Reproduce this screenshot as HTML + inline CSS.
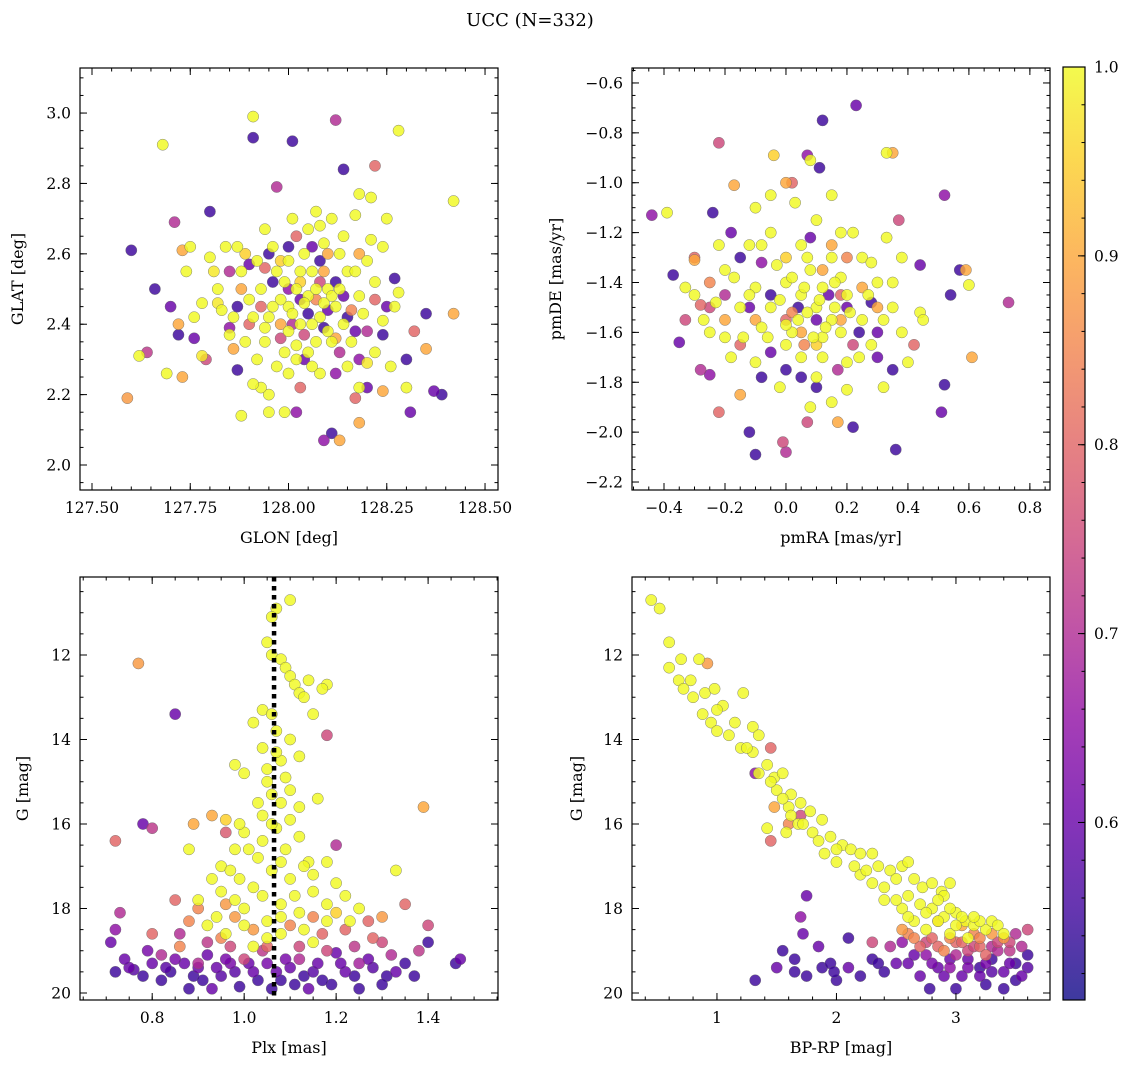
<!DOCTYPE html>
<html><head><meta charset="utf-8">
<style>
html,body{margin:0;padding:0;background:#fff;}
svg text{font-family:"DejaVu Serif","Liberation Serif",serif;fill:#000;}
</style></head>
<body>
<svg id="fig" width="1136" height="1067" xmlns="http://www.w3.org/2000/svg">
<defs>
<linearGradient id="plasma" x1="0" y1="1" x2="0" y2="0">
<stop offset="0" stop-color="#0d0887"/><stop offset="0.1" stop-color="#41049d"/><stop offset="0.2" stop-color="#6a00a8"/><stop offset="0.3" stop-color="#8f0da4"/><stop offset="0.4" stop-color="#b12a90"/><stop offset="0.5" stop-color="#cc4778"/><stop offset="0.6" stop-color="#e16462"/><stop offset="0.7" stop-color="#f2844b"/><stop offset="0.8" stop-color="#fca636"/><stop offset="0.9" stop-color="#fcce25"/><stop offset="1" stop-color="#f0f921"/>
</linearGradient>
</defs>
<text x="530" y="26" font-size="18" text-anchor="middle">UCC (N=332)</text>
</svg>
<script>
// ---- data: [x, y, membership probability] ----
const posPoints = [[127.6,2.61,0.55],[127.66,2.5,0.55],[127.68,2.91,1],[127.59,2.19,0.88],[127.62,2.31,1],[127.64,2.32,0.72],[127.71,2.69,0.7],[127.7,2.45,0.6],[127.72,2.4,0.9],[127.73,2.25,0.9],[127.69,2.26,1],[127.72,2.37,0.55],[127.74,2.55,1],[127.73,2.61,0.9],[127.8,2.72,0.55],[127.76,2.36,0.6],[127.78,2.31,0.98],[127.79,2.3,0.75],[127.82,2.46,0.98],[127.81,2.55,0.98],[127.85,2.39,0.65],[127.86,2.33,0.9],[127.87,2.27,0.55],[127.88,2.14,1],[127.89,2.6,0.95],[127.91,2.99,1],[127.91,2.93,0.55],[128.01,2.92,0.55],[128.12,2.98,0.7],[127.97,2.79,0.7],[128.14,2.84,0.55],[128.22,2.85,0.8],[128.28,2.95,1],[128.42,2.75,1],[128.42,2.43,0.9],[128.35,2.43,0.55],[128.35,2.33,0.9],[128.37,2.21,0.6],[128.39,2.2,0.55],[128.31,2.15,0.6],[128.3,2.3,0.55],[128.3,2.22,1],[128.32,2.38,0.8],[128.24,2.37,0.55],[128.27,2.53,0.55],[128.28,2.49,1],[128.24,2.62,1],[128.25,2.7,1],[128.21,2.76,1],[128.18,2.77,1],[128.17,2.71,1],[128.13,2.07,0.9],[128.11,2.09,0.55],[128.09,2.07,0.65],[128.02,2.15,0.65],[127.99,2.15,1],[127.95,2.2,1],[127.93,2.22,1],[127.91,2.23,1],[128.03,2.22,0.8],[128.08,2.26,1],[128.17,2.19,0.8],[128.2,2.22,0.6],[128.24,2.21,0.9],[128.18,2.3,0.65],[128.2,2.29,0.98],[128.18,2.12,0.9],
[128.0,2.45,1],[128.02,2.5,1],[128.05,2.48,1],[128.08,2.42,1],[128.03,2.4,1],[127.98,2.47,1],[128.06,2.55,1],[128.1,2.5,1],[128.12,2.45,1],[128.0,2.38,1],[127.95,2.42,1],[128.04,2.6,1],[128.09,2.63,1],[127.97,2.55,1],[127.93,2.5,1],[128.15,2.55,1],[128.14,2.4,1],[128.07,2.35,1],[127.99,2.32,1],[128.02,2.3,1],[127.96,2.62,1],[128.01,2.7,1],[128.05,2.67,1],[128.11,2.7,1],[128.13,2.6,1],[127.9,2.47,1],[127.88,2.55,1],[127.92,2.58,1],[128.18,2.48,1],[128.16,2.35,1],[128.1,2.38,1],[127.94,2.35,1],[127.86,2.42,1],[128.2,2.58,1],[128.22,2.52,1],[128.06,2.28,1],[127.97,2.28,1],[128.03,2.52,0.95],[127.98,2.58,0.95],
[128.05,2.43,0.55],[128.0,2.62,0.55],[128.1,2.44,0.6],[127.95,2.6,0.55],[128.12,2.52,0.55],[128.17,2.38,0.6],[127.9,2.57,0.6],[128.08,2.58,0.55],[128.15,2.42,0.55],[128.0,2.5,0.65],[128.04,2.37,0.75],[127.93,2.45,0.8],[128.07,2.47,0.85],[128.13,2.32,0.7],[127.98,2.4,0.9],[128.02,2.65,0.8],[127.88,2.5,0.9],[128.18,2.6,0.9],[127.85,2.55,0.7],[128.25,2.45,0.6],[128.12,2.26,0.65],[128.09,2.55,0.9],
[127.75,2.62,1],[127.78,2.46,1],[127.83,2.44,1],[127.8,2.59,1],[127.84,2.62,1],[127.76,2.42,1],[128.27,2.45,1],[128.22,2.32,1],[128.26,2.28,1],[128.18,2.22,1],[127.95,2.15,1],[127.85,2.37,1],
[128.01,2.43,1],[128.04,2.46,1],[128.07,2.5,1],[128.11,2.48,1],[128.03,2.55,1],[127.99,2.52,1],[128.06,2.4,1],[128.09,2.46,1],[128.13,2.5,1],[127.96,2.45,1],[128.0,2.58,1],[128.08,2.68,1],[128.14,2.65,1],[128.17,2.55,1],[128.19,2.43,1],[127.94,2.39,1],[127.91,2.42,1],[127.89,2.35,1],[128.02,2.34,1],[128.05,2.32,1],[128.11,2.35,1],[128.15,2.28,1],[128.0,2.26,1],[127.92,2.3,1],[128.24,2.41,1],[128.21,2.64,1],[127.94,2.67,1],[128.07,2.72,1],[127.87,2.62,1],[127.82,2.5,1],
[128.03,2.47,0.6],[128.09,2.39,0.55],[127.96,2.52,0.55],[128.14,2.48,0.6],[128.06,2.62,0.6],[128.01,2.4,0.7],[127.9,2.4,0.8],[128.16,2.44,0.85],[128.04,2.3,0.6],[128.1,2.6,0.9],[127.98,2.36,0.75],[128.2,2.38,0.7],[128.22,2.47,0.8],[127.87,2.45,0.55],[128.12,2.36,0.9],[127.94,2.56,0.8],[128.08,2.52,0.75]];

const pmPoints = [[0.23,-0.69,0.6],[0.12,-0.75,0.55],[-0.22,-0.84,0.75],[0.33,-0.88,1],[0.35,-0.88,0.9],[-0.04,-0.89,0.95],[0.07,-0.89,0.65],[0.08,-0.91,1],[0.11,-0.94,0.55],[0.0,-1.0,0.9],[0.02,-1.0,0.8],[-0.17,-1.01,0.9],[0.52,-1.05,0.65],[-0.44,-1.13,0.65],[-0.39,-1.12,1],[-0.24,-1.12,0.55],[-0.37,-1.37,0.55],[-0.35,-1.64,0.6],[-0.1,-2.09,0.55],[-0.12,-2.0,0.55],[0.36,-2.07,0.55],[0.73,-1.48,0.7],[0.61,-1.7,0.9],[0.52,-1.81,0.55],[0.51,-1.92,0.6],[0.57,-1.35,0.55],[0.59,-1.35,0.9],[0.6,-1.41,1],[0.54,-1.45,0.55],[0.44,-1.33,0.6],[0.44,-1.52,1],[0.37,-1.15,0.75],[0.22,-1.98,0.55],[-0.01,-2.04,0.75],[0.0,-2.08,0.7],[0.07,-1.96,0.75],[0.17,-1.96,0.9],[-0.22,-1.92,0.8],[-0.25,-1.77,0.65],[-0.28,-1.49,0.8],[-0.3,-1.31,0.9],
[0.0,-1.4,1],[0.05,-1.45,1],[0.1,-1.5,1],[0.15,-1.55,1],[-0.05,-1.5,1],[0.02,-1.6,1],[0.08,-1.35,1],[0.12,-1.42,1],[0.2,-1.45,1],[0.18,-1.6,1],[-0.1,-1.42,1],[-0.08,-1.58,1],[0.0,-1.65,1],[0.05,-1.7,1],[0.25,-1.55,1],[0.3,-1.4,1],[0.28,-1.65,1],[-0.15,-1.5,1],[-0.2,-1.35,1],[-0.12,-1.25,1],[0.05,-1.25,1],[0.15,-1.3,1],[0.22,-1.2,1],[0.1,-1.15,1],[-0.05,-1.2,1],[-0.1,-1.1,1],[0.2,-1.72,1],[0.1,-1.78,1],[-0.02,-1.82,1],[0.15,-1.88,1],[0.32,-1.82,1],[0.35,-1.5,1],[0.38,-1.3,1],[-0.25,-1.6,1],[-0.3,-1.45,1],[-0.22,-1.25,1],[0.12,-1.62,1],[0.07,-1.52,1],[-0.03,-1.33,1],[0.18,-1.38,1],[0.25,-1.3,1],[0.32,-1.55,1],[-0.18,-1.7,1],[0.08,-1.9,1],[0.4,-1.72,1],[-0.27,-1.55,1],[-0.14,-1.62,1],[0.03,-1.08,1],[0.33,-1.22,1],[0.45,-1.55,1],
[-0.05,-1.45,0.55],[0.1,-1.55,0.6],[-0.15,-1.3,0.55],[0.2,-1.5,0.6],[0.0,-1.75,0.55],[-0.08,-1.78,0.55],[0.05,-1.78,0.55],[0.28,-1.48,0.55],[0.3,-1.6,0.6],[-0.2,-1.45,0.7],[0.18,-1.45,0.8],[0.12,-1.35,0.9],[-0.1,-1.55,0.9],[0.02,-1.52,0.85],[0.15,-1.25,0.9],[-0.25,-1.4,0.85],[-0.3,-1.3,0.8],[0.05,-1.6,0.9],[0.22,-1.65,0.75],[-0.2,-1.55,0.9],[0.35,-1.75,0.55],[0.42,-1.65,0.8],[-0.15,-1.85,0.9],[0.17,-1.75,0.7],[-0.28,-1.75,0.7],[0.08,-1.22,0.6],[-0.08,-1.32,0.65],[0.25,-1.42,0.9],[-0.33,-1.55,0.75],[0.1,-1.65,0.95],[0.0,-1.3,0.95],
[0.06,-1.42,1],[0.11,-1.47,1],[0.16,-1.5,1],[-0.02,-1.47,1],[0.04,-1.55,1],[0.13,-1.58,1],[0.09,-1.62,1],[-0.06,-1.62,1],[0.02,-1.38,1],[0.21,-1.52,1],[0.16,-1.4,1],[-0.12,-1.45,1],[-0.17,-1.38,1],[0.07,-1.3,1],[-0.08,-1.25,1],[0.18,-1.2,1],[0.28,-1.32,1],[0.35,-1.4,1],[-0.23,-1.48,1],[-0.2,-1.62,1],[0.24,-1.7,1],[0.12,-1.7,1],[0.0,-1.57,1],[0.2,-1.83,1],[-0.1,-1.72,1],[0.38,-1.6,1],[-0.05,-1.05,1],[0.15,-1.05,1],[0.27,-1.45,1],[-0.33,-1.42,1],
[0.04,-1.5,0.55],[0.14,-1.45,0.6],[-0.12,-1.5,0.6],[0.24,-1.6,0.55],[-0.05,-1.68,0.6],[0.1,-1.82,0.55],[0.3,-1.7,0.6],[-0.18,-1.2,0.6],[0.2,-1.3,0.85],[-0.15,-1.65,0.8],[0.06,-1.65,0.85],[0.3,-1.5,0.9],[-0.25,-1.5,0.75],[0.0,-1.55,0.8],[0.18,-1.55,0.9]];

const plxPoints = [[1.1,10.7,1],[1.07,10.9,1],[1.06,11.1,1],[1.05,11.7,1],[1.06,12.0,1],[1.08,12.1,1],[1.09,12.3,1],[1.1,12.5,1],[1.11,12.7,1],[1.12,12.9,1],[1.14,12.6,1],[1.13,13.0,1],[1.15,13.4,1],[1.18,12.7,1],[1.04,13.3,1],[1.06,13.4,1],[1.07,13.8,1],[1.1,14.0,1],[1.04,14.2,1],[1.08,14.5,1],[0.98,14.6,1],[1.0,14.8,1],[1.05,15.0,1],[1.1,15.2,1],[1.08,15.5,1],[1.12,15.6,1],[1.04,15.8,1],[0.96,15.9,0.95],[1.0,16.2,1],[1.07,16.1,1],[1.12,16.3,1],[1.09,16.6,1],[0.98,16.6,1],[1.03,16.8,1],[1.14,16.9,1],[1.18,16.9,1],[0.95,17.0,1],[1.06,17.1,1],[1.1,17.3,1],[0.93,17.3,1],[1.02,17.5,1],[1.2,17.4,1],[1.15,17.6,1],[0.88,16.6,1],[1.33,17.1,1],[1.22,17.7,1],[0.98,17.8,1],[1.08,17.9,1],[1.0,18.0,1],[1.12,18.1,1],[1.05,18.3,1],[0.92,18.4,1],[1.18,18.3,1],[1.25,18.0,1],[0.96,18.6,1],[1.08,18.6,1],[1.15,18.8,1],[1.02,18.9,1],[0.94,18.2,1],[1.2,18.1,0.95],[0.99,17.3,1],[1.13,17.0,1],[1.04,16.4,1],[1.16,15.4,1],
[0.77,12.2,0.88],[0.85,13.4,0.6],[1.18,13.9,0.75],[1.39,15.6,0.9],[0.72,16.4,0.8],[0.78,16.0,0.6],[0.8,16.1,0.72],[0.93,15.8,0.9],[0.89,16.0,0.9],[0.96,16.2,0.78],[1.2,16.5,0.7],[0.85,17.8,0.8],[0.73,18.1,0.7],[0.9,18.0,0.85],[0.98,18.2,0.88],[1.1,18.4,0.85],[1.22,18.5,0.8],[1.3,18.2,0.88],[1.35,17.9,0.8],[1.4,18.4,0.75],[0.8,18.6,0.8],[0.86,18.9,0.85],[0.95,18.7,0.85],[1.05,18.9,0.8],[1.18,19.0,0.75],[1.28,18.7,0.8],[1.32,19.1,0.7],[1.0,19.2,0.75],[0.9,19.3,0.7],[0.82,19.1,0.7],[0.72,18.5,0.65],[1.38,19.0,0.72],[1.12,19.2,0.7],[1.25,19.3,0.68],[1.02,18.5,0.88],
[0.71,18.8,0.6],[0.72,19.5,0.55],[0.75,19.4,0.6],[0.78,19.6,0.55],[0.8,19.3,0.6],[0.84,19.5,0.55],[0.85,19.2,0.62],[0.88,19.9,0.55],[0.9,19.4,0.6],[0.92,19.1,0.6],[0.95,19.6,0.58],[0.99,19.85,0.55],[1.02,19.5,0.6],[1.05,19.3,0.62],[1.08,19.7,0.55],[1.1,19.4,0.6],[1.13,19.6,0.55],[1.16,19.3,0.6],[1.19,19.8,0.55],[1.22,19.5,0.6],[1.25,19.9,0.55],[1.28,19.4,0.58],[1.31,19.6,0.55],[1.35,19.3,0.55],[1.4,18.8,0.55],[1.47,19.2,0.6],[1.46,19.3,0.55],[1.37,19.6,0.55],[0.93,19.9,0.6],[1.06,19.9,0.55],[0.82,19.7,0.55],[1.2,19.05,0.6],[0.97,19.3,0.62],[0.76,19.45,0.58],[1.14,19.9,0.6],
[0.74,19.2,0.6],[0.79,19.0,0.62],[0.83,19.4,0.58],[0.87,19.3,0.6],[0.89,19.6,0.55],[0.91,19.7,0.55],[0.94,19.4,0.6],[0.96,19.2,0.62],[0.98,19.5,0.58],[1.01,19.3,0.6],[1.03,19.7,0.55],[1.07,19.5,0.6],[1.09,19.2,0.62],[1.11,19.8,0.55],[1.15,19.5,0.58],[1.17,19.7,0.55],[1.21,19.3,0.6],[1.24,19.6,0.55],[1.27,19.2,0.6],[1.3,19.8,0.55],[1.33,19.5,0.6],[0.86,18.6,0.7],[0.92,18.8,0.72],[0.97,18.9,0.75],[1.04,19.0,0.72],[1.12,18.9,0.75],[1.17,18.6,0.8],[1.24,18.9,0.72],[1.3,18.8,0.75],[0.88,18.3,0.85],[0.96,17.9,0.88],[1.15,18.2,0.85],[1.27,18.3,0.8],
[1.07,14.3,1],[1.05,14.7,1],[1.09,14.9,1],[1.06,15.3,1],[1.03,15.5,1],[1.1,15.9,1],[1.06,16.0,1],[1.01,16.6,1],[1.08,16.9,1],[1.15,17.2,1],[0.97,17.1,1],[1.04,17.7,1],[1.11,17.7,1],[1.18,17.9,1],[0.95,17.6,1],[1.0,18.4,1],[1.08,18.2,1],[1.13,18.5,1],[0.9,17.8,1],[1.23,18.3,1],[1.05,18.7,1],[0.99,16.0,1],[1.12,14.4,1],[1.17,12.8,1],[1.02,13.6,1]];
const plxMedian = [1.065];

const cmdPoints = [[0.45,10.7,1],[0.52,10.9,1],[0.6,11.7,1],[0.6,12.3,1],[0.7,12.1,1],[0.68,12.6,1],[0.72,12.8,1],[0.78,12.6,1],[0.85,12.1,1],[0.8,13.0,1],[0.9,12.9,1],[0.98,12.8,1],[1.05,13.2,1],[0.88,13.4,1],[0.95,13.6,1],[1.0,13.8,1],[1.15,13.6,1],[1.22,12.9,1],[1.3,13.7,1],[1.35,13.9,1],[1.2,14.2,1],[1.3,14.3,1],[1.42,14.6,1],[1.48,14.9,1],[1.55,14.8,1],[1.5,15.2,1],[1.62,15.3,1],[1.7,15.5,1],[1.78,15.7,1],[1.88,15.9,1],[1.68,16.0,1],[1.42,16.1,1],[1.58,16.2,1],[1.8,16.2,1],[1.95,16.3,1],[2.05,16.5,1],[2.12,16.6,1],[2.0,16.9,1],[2.2,16.7,1],[2.3,16.7,1],[2.35,17.0,1],[2.45,17.1,1],[2.55,17.0,1],[2.6,16.9,1],[2.5,17.3,1],[2.65,17.3,1],[2.72,17.5,1],[2.8,17.4,1],[2.88,17.6,1],[2.95,17.4,1],[2.6,17.7,1],[2.7,17.9,1],[2.8,18.0,1],[2.9,18.2,1],[3.0,18.1,1],[3.08,18.3,1],[2.55,18.0,1],[2.65,18.3,1],[3.15,18.4,1],[3.25,18.5,1],[3.3,18.3,1],[2.75,18.5,1],[2.95,18.6,1],[3.1,18.7,1],[2.2,17.2,1],[1.9,16.7,1],[2.4,17.5,1],[2.9,17.7,1],[1.6,15.6,1],[1.35,14.8,1],
[0.92,12.2,0.88],[1.45,14.2,0.8],[1.32,14.8,0.65],[1.48,15.6,0.9],[1.6,16.0,0.85],[1.45,16.4,0.8],[1.7,15.8,0.75],[1.75,17.7,0.6],[1.7,18.2,0.65],[1.72,18.6,0.6],[1.65,19.2,0.55],[1.55,19.0,0.55],[1.5,19.4,0.6],[1.32,19.7,0.55],[1.65,19.5,0.55],[1.75,19.6,0.55],[1.85,18.9,0.6],[1.88,19.4,0.55],[1.95,19.3,0.55],[2.0,19.7,0.55],[2.1,19.4,0.6],[2.3,19.2,0.55],[2.4,19.5,0.55],[2.5,19.3,0.6],[2.55,18.8,0.65],[2.65,19.1,0.6],[2.7,19.6,0.6],[2.78,19.9,0.55],[2.85,19.4,0.6],[2.95,19.2,0.6],[3.0,19.9,0.55],[3.05,19.6,0.6],[3.1,19.2,0.6],[3.2,19.4,0.55],[3.25,19.8,0.55],[3.3,19.2,0.55],[3.4,19.5,0.6],[3.5,19.3,0.55],[3.55,19.6,0.6],[3.6,19.1,0.55],[3.5,18.6,0.7],[3.45,19.0,0.72],[3.35,18.8,0.75],[3.2,18.9,0.8],[3.1,19.0,0.75],[3.0,18.8,0.8],[2.9,19.0,0.85],[2.8,18.7,0.8],[2.7,18.9,0.8],[2.6,18.6,0.85],[3.15,18.6,0.85],[3.25,19.1,0.8],[3.4,18.7,0.88],[3.6,18.5,0.75],[2.45,18.9,0.7],[2.3,18.8,0.75],[3.05,18.4,0.9],[2.85,18.3,0.9],[3.3,18.9,0.7],[2.95,19.4,0.65],[2.1,18.7,0.55],
[2.6,18.2,1],[2.75,18.1,1],[2.85,18.3,1],[2.95,18.0,1],[3.05,18.2,1],[3.2,18.3,1],[2.5,17.8,1],[2.4,17.8,1],[2.3,17.4,1],[2.15,17.0,1],[2.25,17.1,1],[2.0,16.6,1],[1.85,16.4,1],[1.72,16.0,1],[1.55,15.4,1],[1.45,15.0,1],[1.62,15.8,1],[1.25,14.2,1],[1.1,13.9,1],[1.0,13.3,1],[2.85,17.8,1],[3.0,18.4,1],[3.15,18.2,1],[3.35,18.4,1],[3.4,18.6,1],
[2.75,18.8,0.75],[2.85,18.9,0.8],[2.95,18.7,0.85],[3.05,18.8,0.8],[3.15,18.9,0.75],[3.2,18.7,0.85],[3.3,18.6,0.88],[3.35,19.0,0.7],[3.45,18.8,0.75],[3.55,18.9,0.7],[2.65,18.7,0.85],[2.55,18.5,0.88],[3.0,19.1,0.7],[3.1,19.4,0.62],[3.2,19.6,0.6],[3.3,19.5,0.58],[3.45,19.3,0.6],[3.5,19.7,0.55],[2.9,19.6,0.6],[2.8,19.3,0.62],[2.6,19.3,0.6],[2.35,19.3,0.55],[2.2,19.6,0.55],[1.98,19.5,0.55],[3.4,19.9,0.55],[3.6,19.4,0.58],[2.75,19.1,0.65],[3.25,19.3,0.62]];

const p1XTicks = [127.5,127.75,128.0,128.25,128.5];
const p1XLabels = ["127.50","127.75","128.00","128.25","128.50"];
const p1YTicks = [2.0,2.2,2.4,2.6,2.8,3.0];
const p2XTicks = [-0.4,-0.2,0.0,0.2,0.4,0.6,0.8];
const p2YTicks = [-2.2,-2.0,-1.8,-1.6,-1.4,-1.2,-1.0,-0.8,-0.6];
const p3XTicks = [0.8,1.0,1.2,1.4];
const gTicks = [12,14,16,18,20];
const p4XTicks = [1,2,3];
const cbTicks = [0.6,0.7,0.8,0.9,1.0];
const cbRange = [0.506,1.0];

const NS="http://www.w3.org/2000/svg";
const svg=document.getElementById('fig');
function mk(tag,attrs,parent){const e=document.createElementNS(NS,tag);for(const k in attrs)e.setAttribute(k,attrs[k]);(parent||svg).appendChild(e);return e;}
const stops=["#0d0887","#41049d","#6a00a8","#8f0da4","#b12a90","#cc4778","#e16462","#f2844b","#fca636","#fcce25","#f0f921"];
function hex(h){return [parseInt(h.substr(1,2),16),parseInt(h.substr(3,2),16),parseInt(h.substr(5,2),16)];}
function cmap(p){let t=(p-cbRange[0])/(cbRange[1]-cbRange[0]);t=Math.max(0,Math.min(1,t));const f=t*10,i=Math.min(9,Math.floor(f)),r=f-i;const a=hex(stops[i]),b=hex(stops[i+1]);return 'rgb('+a.map((v,k)=>Math.round(v+(b[k]-v)*r)).join(',')+')';}
function fmt(v,d){return v.toFixed(d).replace('-','\u2212');}

function panel(cfg){
  const g=mk('g',{});
  
  
  const {x0,x1,y0,y1,xd,yd}=cfg;
  const sx=v=>x0+(v-xd[0])/(xd[1]-xd[0])*(x1-x0);
  const sy=v=>cfg.invert? y0+(v-yd[0])/(yd[1]-yd[0])*(y1-y0) : y1-(v-yd[0])/(yd[1]-yd[0])*(y1-y0);
  const clip='clip-'+cfg.name;
  const cp=mk('clipPath',{id:clip},g);mk('rect',{x:x0,y:y0,width:x1-x0,height:y1-y0},cp);
  const pg=mk('g',{'clip-path':'url(#'+clip+')'},g);
  const pts=cfg.points.slice().sort((a,b)=>a[2]-b[2]);
  pts.forEach(p=>{
    const c=mk('circle',{cx:sx(p[0]),cy:sy(p[1]),r:5.6,fill:cmap(p[2]),'fill-opacity':0.82,stroke:'#666','stroke-width':0.4},pg);
    
    
  });
  if(cfg.vline){cfg.vline.forEach(v=>{const l=mk('line',{x1:sx(v),x2:sx(v),y1:y0,y2:y1,stroke:'#000','stroke-width':4.5,'stroke-dasharray':'4.5,4.5'},pg);
    });}
  const fr=mk('rect',{x:x0,y:y0,width:x1-x0,height:y1-y0,fill:'none',stroke:'#000','stroke-width':1.2},g);
  
  const eps=1e-9;
  for(let v=Math.ceil(xd[0]/cfg.xm-eps)*cfg.xm; v<=xd[1]; v+=cfg.xm){const X=sx(v);mk('line',{x1:X,x2:X,y1:y1,y2:y1-3.5,stroke:'#000','stroke-width':1},g);mk('line',{x1:X,x2:X,y1:y0,y2:y0+3.5,stroke:'#000','stroke-width':1},g);}
  for(let v=Math.ceil(yd[0]/cfg.ym-eps)*cfg.ym; v<=yd[1]; v+=cfg.ym){const Y=sy(v);mk('line',{x1:x0,x2:x0+3.5,y1:Y,y2:Y,stroke:'#000','stroke-width':1},g);mk('line',{x1:x1,x2:x1-3.5,y1:Y,y2:Y,stroke:'#000','stroke-width':1},g);}
  cfg.xt.forEach((v,i)=>{const X=sx(v);mk('line',{x1:X,x2:X,y1:y1,y2:y1-7,stroke:'#000','stroke-width':1},g);mk('line',{x1:X,x2:X,y1:y0,y2:y0+7,stroke:'#000','stroke-width':1},g);
    const t=mk('text',{x:X,y:y1+23,'font-size':15.5,'text-anchor':'middle'},g);t.textContent=cfg.xl?cfg.xl[i]:fmt(v,cfg.xdp);
    });
  cfg.yt.forEach(v=>{const Y=sy(v);mk('line',{x1:x0,x2:x0+7,y1:Y,y2:Y,stroke:'#000','stroke-width':1},g);mk('line',{x1:x1,x2:x1-7,y1:Y,y2:Y,stroke:'#000','stroke-width':1},g);
    const t=mk('text',{x:x0-9,y:Y+5.5,'font-size':15.5,'text-anchor':'end'},g);t.textContent=fmt(v,cfg.ydp);
    });
  const xt=mk('text',{x:(x0+x1)/2,y:y1+53,'font-size':16,'text-anchor':'middle'},g);xt.textContent=cfg.xlabel;
  
  const yx=cfg.ylx, yy=(y0+y1)/2;
  const yt=mk('text',{x:yx,y:yy,'font-size':16,'text-anchor':'middle',transform:'rotate(-90 '+yx+' '+yy+')'},g);yt.textContent=cfg.ylabel;
  
}

panel({name:'galactic-position-panel',x0:80,x1:498,y0:68,y1:490,xd:[127.4695,128.533],yd:[1.929,3.128],points:posPoints,xt:p1XTicks,xl:p1XLabels,yt:p1YTicks,ydp:1,xm:0.05,ym:0.05,xlabel:'GLON [deg]',ylabel:'GLAT [deg]',ylx:23});
panel({name:'proper-motion-panel',x0:632,x1:1050,y0:68,y1:490,xd:[-0.505,0.866],yd:[-2.232,-0.54],points:pmPoints,xt:p2XTicks,xdp:1,yt:p2YTicks,ydp:1,xm:0.05,ym:0.05,xlabel:'pmRA [mas/yr]',ylabel:'pmDE [mas/yr]',ylx:561});
panel({name:'parallax-magnitude-panel',x0:80,x1:498,y0:577,y1:1000,xd:[0.643,1.552],yd:[10.154,20.166],invert:true,points:plxPoints,xt:p3XTicks,xdp:1,yt:gTicks,ydp:0,xm:0.05,ym:0.5,xlabel:'Plx [mas]',ylabel:'G [mag]',ylx:28,vline:plxMedian});
panel({name:'color-magnitude-panel',x0:632,x1:1050,y0:577,y1:1000,xd:[0.289,3.787],yd:[10.154,20.166],invert:true,points:cmdPoints,xt:p4XTicks,xdp:0,yt:gTicks,ydp:0,xm:0.2,ym:0.5,xlabel:'BP-RP [mag]',ylabel:'G [mag]',ylx:582});

(function(){
  const cx0=1063,cx1=1085,cy0=67,cy1=1000;
  const g=mk('g',{});
  
  
  mk('rect',{x:cx0,y:cy0,width:cx1-cx0,height:cy1-cy0,fill:'url(#plasma)','fill-opacity':0.8},g);
  mk('rect',{x:cx0,y:cy0,width:cx1-cx0,height:cy1-cy0,fill:'none',stroke:'#000','stroke-width':1.2},g);
  const sy=v=>cy1-(v-cbRange[0])/(cbRange[1]-cbRange[0])*(cy1-cy0);
  for(let k=Math.ceil(cbRange[0]/0.02);k*0.02<=cbRange[1]+1e-9;k++){const Y=sy(k*0.02);mk('line',{x1:cx1,x2:cx1-3.5,y1:Y,y2:Y,stroke:'#000','stroke-width':1},g);}
  cbTicks.forEach(v=>{const Y=sy(v);mk('line',{x1:cx1,x2:cx1-7,y1:Y,y2:Y,stroke:'#000','stroke-width':1},g);
    const t=mk('text',{x:cx1+9,y:Y+5.5,'font-size':15.5},g);t.textContent=v.toFixed(1);
    });
})();
</script>
</body></html>
